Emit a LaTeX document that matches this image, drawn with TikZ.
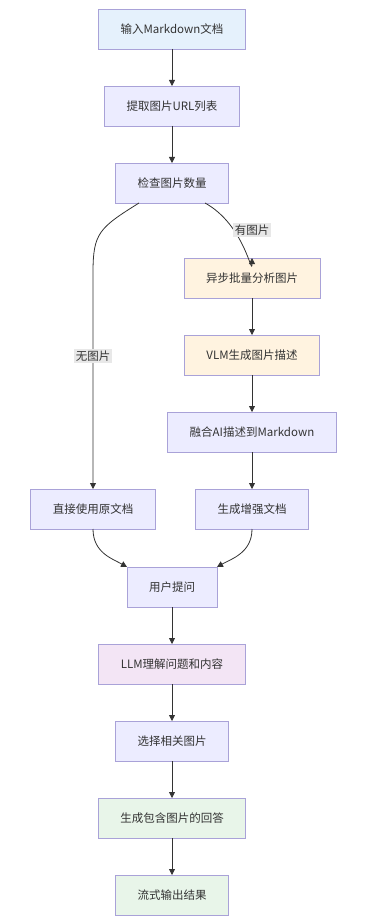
\documentclass[tikz,border=0pt]{standalone}
\usepackage{fontspec}
\setmainfont{Noto Sans CJK SC}
\usetikzlibrary{arrows.meta,positioning}
\definecolor{FlowLine}{HTML}{333333}
\definecolor{FlowEdge}{HTML}{A9A2D8}
\definecolor{FlowBase}{HTML}{ECECFF}
\definecolor{FlowBlue}{HTML}{E5F1FC}
\definecolor{FlowOrange}{HTML}{FFF3E0}
\definecolor{FlowPink}{HTML}{F3E5F5}
\definecolor{FlowGreen}{HTML}{E8F5E9}
\definecolor{FlowTag}{HTML}{E8E8E8}

\begin{document}
\begin{tikzpicture}[x=1pt,y=1pt,font=\fontsize{11.5}{13}\selectfont,text=FlowLine,
  box/.style={draw=FlowEdge,line width=0.8pt,fill=FlowBase,align=center,inner xsep=22pt,minimum height=40pt,outer sep=0pt},
  link/.style={draw=FlowLine,line width=0.8pt,-{Triangle[length=6pt,width=6pt]}},
  tag/.style={fill=FlowTag,inner sep=1.5pt}]
  \useasboundingbox (0,0) rectangle (365,-920);
  \node[box,fill=FlowBlue] (in) at (172,-29) {输入Markdown文档};
  \node[box,below=37pt of in] (urls) {提取图片URL列表};
  \node[box,below=37pt of urls] (chk) {检查图片数量};
  \node[box,fill=FlowOrange,below=55pt of chk,xshift=80pt] (ana) {异步批量分析图片};
  \node[box,fill=FlowOrange,below=37pt of ana] (vlm) {VLM生成图片描述};
  \node[box,below=37pt of vlm] (fuse) {融合AI描述到Markdown};
  \node[box,below=37pt of fuse] (enh) {生成增强文档};
  \node[box] (direct) at ([xshift=-159pt]enh) {直接使用原文档};
  \node[box,below=38pt of enh,xshift=-80pt] (ask) {用户提问};
  \node[box,fill=FlowPink,below=37pt of ask] (llm) {LLM理解问题和内容};
  \node[box,below=37pt of llm] (sel) {选择相关图片};
  \node[box,fill=FlowGreen,below=37pt of sel] (ans) {生成包含图片的回答};
  \node[box,fill=FlowGreen,below=37pt of ans] (out) {流式输出结果};
  % main column
  \draw[link] (in) -- (urls);
  \draw[link] (urls) -- (chk);
  % branches
  \draw[link] ([xshift=33pt]chk.south) .. controls +(40,-22) and +(0,-20) .. (ana.north);
  \draw[link] ([xshift=-33pt]chk.south) .. controls +(-40,-25) and +(0,40) .. ([yshift=-70pt]chk.south -| direct) -- (direct.north);
  \node[tag] (yes) at (252,-230) {有图片};
  \node[tag] (no) at (93,-356) {无图片};
  \draw[link] (ana) -- (vlm);
  \draw[link] (vlm) -- (fuse);
  \draw[link] (fuse) -- (enh);
  % merge
  \draw[link] (direct.south) .. controls +(0,-24) and +(-14,8) .. ([xshift=-45pt]ask.north);
  \draw[link] (enh.south) .. controls +(0,-24) and +(14,8) .. ([xshift=45pt]ask.north);
  \draw[link] (ask) -- (llm);
  \draw[link] (llm) -- (sel);
  \draw[link] (sel) -- (ans);
  \draw[link] (ans) -- (out);
\end{tikzpicture}
\end{document}
